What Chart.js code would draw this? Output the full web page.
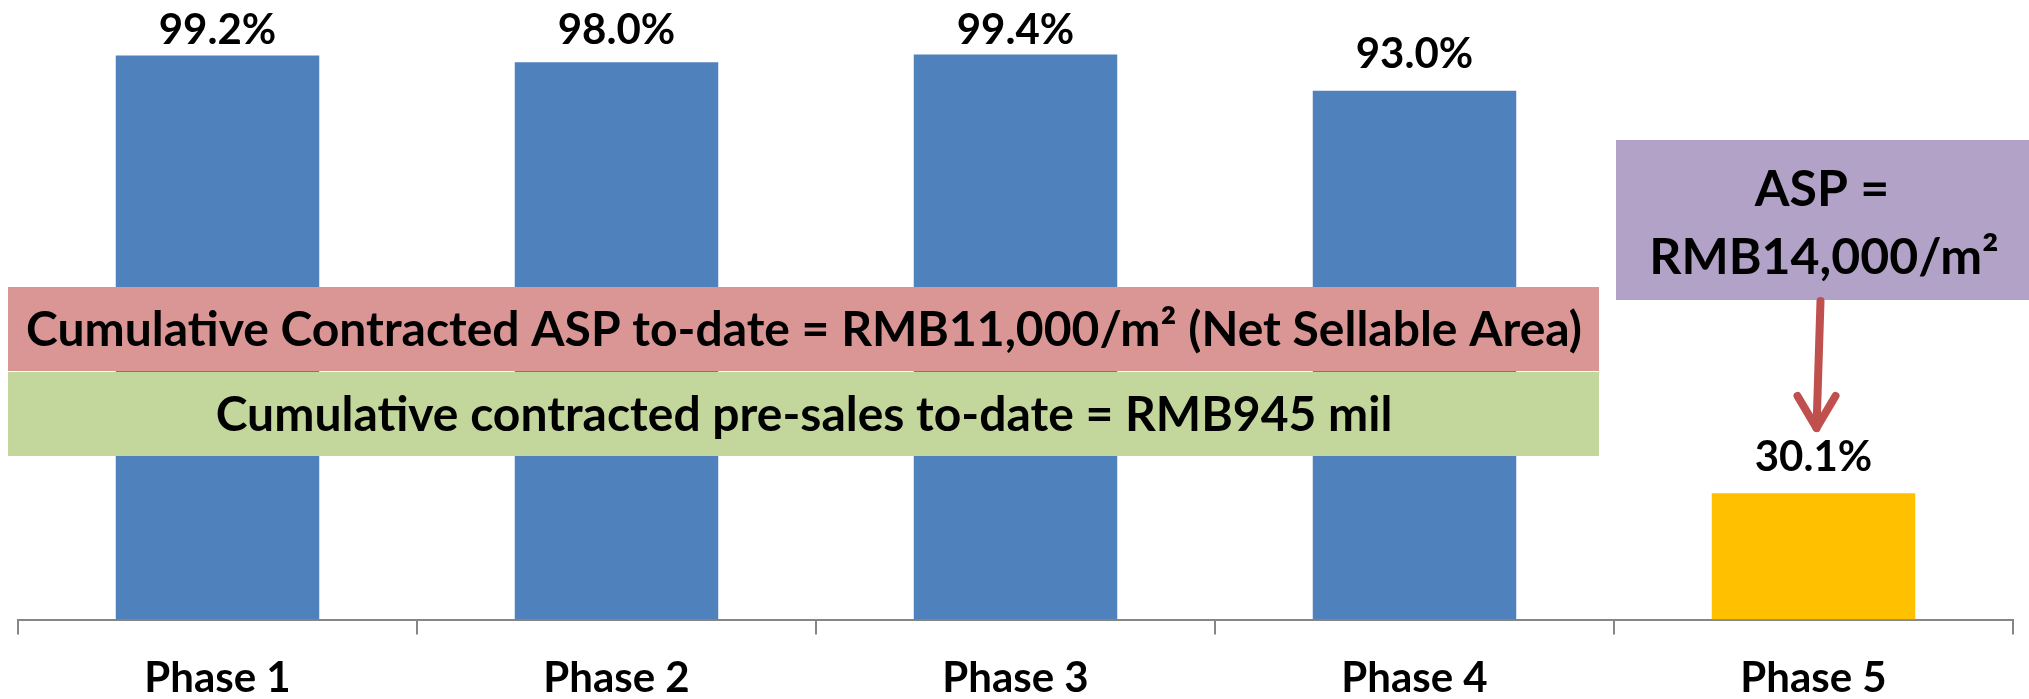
<!DOCTYPE html>
<html>
<head>
<meta charset="utf-8">
<script src="https://cdn.jsdelivr.net/npm/chart.js@4.4.1/dist/chart.umd.min.js"></script>
<style>
  html, body { margin: 0; padding: 0; background: #fff; }
  #wrap { width: 2029px; height: 699px; position: relative; }
</style>
</head>
<body>
<div id="wrap"><canvas id="grafico"></canvas></div>
<script>
const fases = ['Phase 1', 'Phase 2', 'Phase 3', 'Phase 4', 'Phase 5'];
const valores = [99.2, 98.0, 99.4, 93.0, 22.2];          // altura das barras como desenhadas
const rotulos = ['99.2%', '98.0%', '99.4%', '93.0%', '30.1%'];
const textoRosa = 'Cumulative Contracted ASP to-date = RMB11,000/m² (Net Sellable Area)';
const textoVerde = 'Cumulative contracted pre-sales to-date = RMB945 mil';
const textoRoxo = ['ASP =', 'RMB14,000/m²'];

const FONTE = 'Lato, "Open Sans", sans-serif';

// caixas de texto, rótulos e seta
const anotacoes = {
  id: 'anotacoes',
  afterDatasetsDraw(chart) {
    const ctx = chart.ctx;
    const x = chart.scales.x;
    const y = chart.scales.y;
    ctx.save();
    ctx.textAlign = 'center';
    ctx.textBaseline = 'middle';

    // rótulos de valor
    ctx.font = 'bold 42px ' + FONTE;
    valores.forEach((v, i) => {
      const topo = y.getPixelForValue(v);
      ctx.fillStyle = '#000';
      ctx.fillText(rotulos[i], x.getPixelForValue(i), Math.max(topo - 36, 30));
    });

    // faixa rosa
    ctx.font = 'bold 48px ' + FONTE;
    ctx.fillStyle = '#D99694';
    ctx.fillRect(8, 287, 1591, 84);
    ctx.fillStyle = '#000';
    ctx.fillText(textoRosa, 804, 331);

    // faixa verde
    ctx.fillStyle = '#C3D69B';
    ctx.fillRect(8, 372, 1591, 84);
    ctx.fillStyle = '#000';
    ctx.fillText(textoVerde, 804, 416);

    // caixa roxa
    ctx.font = 'bold 50px ' + FONTE;
    ctx.fillStyle = '#B3A2C7';
    ctx.fillRect(1616, 140, 413, 160);
    ctx.fillStyle = '#000';
    ctx.fillText(textoRoxo[0], 1822, 190);
    ctx.fillText(textoRoxo[1], 1824, 258);

    // seta
    const xs = x.getPixelForValue(4);
    ctx.strokeStyle = '#C0504D';
    ctx.lineWidth = 8;
    ctx.lineCap = 'round';
    ctx.lineJoin = 'round';
    ctx.beginPath();
    ctx.moveTo(xs + 7, 301);
    ctx.lineTo(xs + 3, 428);
    ctx.stroke();
    ctx.beginPath();
    ctx.moveTo(xs - 16, 396);
    ctx.lineTo(xs + 3, 428);
    ctx.lineTo(xs + 22, 396);
    ctx.stroke();
    ctx.restore();
  }
};

new Chart(document.getElementById('grafico'), {
  type: 'bar',
  data: {
    labels: fases,
    datasets: [{
      data: valores,
      backgroundColor: c => c.dataIndex === 4 ? '#FFC000' : '#4F81BD',
      barPercentage: 0.51,
      categoryPercentage: 1.0
    }]
  },
  options: {
    responsive: true,
    maintainAspectRatio: false,
    animation: false,
    layout: { padding: { top: 51, left: 18, right: 16, bottom: -24 } },
    plugins: { legend: { display: false }, tooltip: { enabled: false } },
    scales: {
      y: { display: false, min: 0, max: 100 },
      x: {
        border: { display: true, color: '#868686', width: 2 },
        grid: { display: true, drawOnChartArea: false, drawTicks: true, tickLength: 15, color: '#868686', lineWidth: 2 },
        ticks: { color: '#000', font: { family: FONTE, size: 42, weight: 'bold' }, padding: 19 }
      }
    }
  },
  plugins: [anotacoes]
});
</script>
</body>
</html>
